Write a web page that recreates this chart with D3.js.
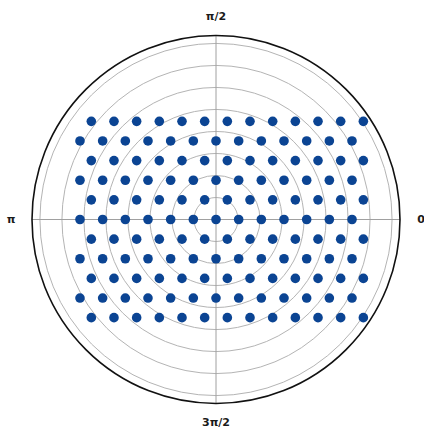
<!DOCTYPE html>
<html>
<head>
<meta charset="utf-8">
<script src="https://cdn.jsdelivr.net/npm/d3@7"></script>
<style>
  html, body { margin: 0; padding: 0; background: #fff; }
  svg { display: block; }
</style>
</head>
<body>
<script>
"use strict";

// hexagonal grid of points, in lattice units (row index, column position)
const rowIndex = [5, 4, 3, 2, 1, 0, -1, -2, -3, -4, -5];
const evenRowCols = [-6, -5, -4, -3, -2, -1, 0, 1, 2, 3, 4, 5, 6];
const oddRowCols = [-5.5, -4.5, -3.5, -2.5, -1.5, -0.5, 0.5, 1.5, 2.5, 3.5, 4.5, 5.5, 6.5];
const latticeStep = 1.03;

const radialTicks = [1, 2, 3, 4, 5, 6, 7, 8];
const rMax = 8.36;
const angleTicks = [
  { angle: 0, label: "0" },
  { angle: Math.PI / 2, label: "\u03c0/2" },
  { angle: Math.PI, label: "\u03c0" },
  { angle: 3 * Math.PI / 2, label: "3\u03c0/2" }
];

const width = 424, height = 430;
const cx = 216, cy = 219.5, radius = 184;

const svg = d3.select("body")
  .append("svg")
    .attr("width", width)
    .attr("height", height);

const r = d3.scaleLinear().domain([0, rMax]).range([0, radius]);

const g = svg.append("g").attr("transform", `translate(${cx},${cy})`);

// rings
g.selectAll(".ring")
  .data(radialTicks)
  .enter()
  .append("circle")
    .attr("class", "ring")
    .attr("r", (d) => r(d))
    .attr("fill", "none")
    .attr("stroke", "#b4b4b4")
    .attr("stroke-width", 1);

// angular grid lines
g.selectAll(".spoke")
  .data(angleTicks)
  .enter()
  .append("line")
    .attr("x1", 0)
    .attr("y1", 0)
    .attr("x2", (d) => r(rMax) * Math.cos(d.angle))
    .attr("y2", (d) => -r(rMax) * Math.sin(d.angle))
    .attr("stroke", "#a0a0a0")
    .attr("stroke-width", 1);

// build the points in polar form
const points = [];
rowIndex.forEach((row) => {
  const cols = Math.abs(row) % 2 === 1 ? oddRowCols : evenRowCols;
  cols.forEach((col) => {
    const x = col * latticeStep;
    const y = row * latticeStep * Math.sqrt(3) / 2;
    points.push({ r: Math.hypot(x, y), theta: Math.atan2(y, x) });
  });
});

g.selectAll(".pt")
  .data(points)
  .enter()
  .append("circle")
    .attr("class", "pt")
    .attr("cx", (d) => r(d.r) * Math.cos(d.theta))
    .attr("cy", (d) => -r(d.r) * Math.sin(d.theta))
    .attr("r", 4.8)
    .attr("fill", "#0b4493");

// outer frame
g.append("circle")
  .attr("r", r(rMax))
  .attr("fill", "none")
  .attr("stroke", "#111")
  .attr("stroke-width", 1.6);

// angle labels
g.selectAll(".alabel")
  .data(angleTicks)
  .enter()
  .append("text")
    .attr("x", (d) => (r(rMax) + 21) * Math.cos(d.angle))
    .attr("y", (d) => -(r(rMax) + 19) * Math.sin(d.angle))
    .attr("text-anchor", "middle")
    .attr("dominant-baseline", "central")
    .attr("font-family", "DejaVu Sans, sans-serif")
    .attr("font-size", 11)
    .attr("font-weight", "bold")
    .attr("fill", "#1a1a1a")
    .text((d) => d.label);
</script>
</body>
</html>
